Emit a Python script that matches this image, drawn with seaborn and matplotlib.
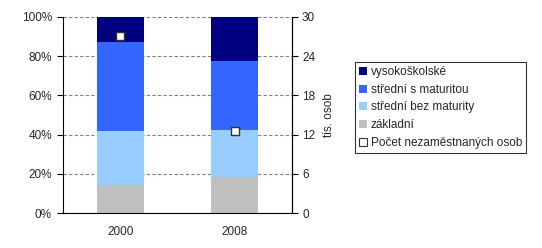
import matplotlib
matplotlib.use("Agg")
import matplotlib.pyplot as plt
import seaborn as sns
import pandas as pd
import numpy as np
from matplotlib.patches import Patch
from matplotlib.lines import Line2D

years = ["2000", "2008"]
series = ["základní", "střední bez maturity", "střední s maturitou", "vysokoškolské"]
zakladni = [14.4, 18.5]
stredni_bez = [27.5, 23.9]
stredni_s = [45.2, 35.1]
vysokoskolske = [12.9, 22.5]
pocet = [27.0, 12.6]
colors = {"základní": "#C0C0C0", "střední bez maturity": "#99CCFF",
          "střední s maturitou": "#3366FF", "vysokoškolské": "#000080"}

sns.set_style("white")
plt.rcParams["font.family"] = ["Liberation Sans", "DejaVu Sans"]
plt.rcParams["font.size"] = 8.5

fig = plt.figure(figsize=(5.42, 2.48), dpi=100)
ax = fig.add_axes([63/542, 1-213.3/248, (292.3-63)/542, (213.3-16.7)/248])

vals = [zakladni, stredni_bez, stredni_s, vysokoskolske]
cum = np.cumsum(np.array(vals), axis=0)
for i in range(len(series) - 1, -1, -1):
    df = pd.DataFrame({"year": years, "value": cum[i]})
    sns.barplot(data=df, x="year", y="value", color=colors[series[i]],
                width=0.41, ax=ax, saturation=1, linewidth=0, zorder=2)

ax.set_xlim(-0.5, 1.5)
ax.set_ylim(0, 100)
ax.set_yticks([0, 20, 40, 60, 80, 100])
ax.set_yticklabels([f"{v}%" for v in [0, 20, 40, 60, 80, 100]])
ax.set_xlabel("")
ax.set_ylabel("")
ax.yaxis.grid(True, linestyle=(0, (3, 2)), color="#808080", linewidth=0.8, zorder=0)
ax.set_axisbelow(True)
ax.spines["top"].set_visible(False)
for s in ["left", "bottom", "right"]:
    ax.spines[s].set_color("black")
    ax.spines[s].set_linewidth(0.8)
ax.set_xticks([0, 1])
ax.set_xticklabels(years)
ax.tick_params(axis="x", length=0, pad=9)
ax.set_xticks([-0.5, 0.5, 1.5], minor=True)
ax.tick_params(axis="x", which="minor", length=4, width=0.8, direction="out", color="black")
ax.tick_params(axis="y", length=4, width=0.8, direction="out", left=True, color="black", pad=4)

ax2 = ax.twinx()
sns.scatterplot(x=[0, 1], y=pocet, ax=ax2, marker="s", s=30, color="white",
                edgecolor="#333333", linewidth=1, zorder=5)
ax2.set_ylim(0, 30)
ax2.set_yticks([0, 6, 12, 18, 24, 30])
ax2.set_ylabel("tis. osob", labelpad=6)
ax2.tick_params(axis="y", length=4, width=0.8, direction="out", right=True, color="black", pad=3)
for s in ["top", "left", "bottom"]:
    ax2.spines[s].set_visible(False)
ax2.spines["right"].set_color("black")
ax2.spines["right"].set_linewidth(0.8)

handles = [Patch(facecolor=colors[s], edgecolor="none") for s in reversed(series)]
labels = list(reversed(series))
handles.append(Line2D([], [], marker="s", linestyle="none", markerfacecolor="white",
                      markeredgecolor="#333333", markersize=6, markeredgewidth=0.8))
labels.append("Počet nezaměstnaných osob")
leg = fig.legend(handles, labels, loc="upper left", bbox_to_anchor=(355/542, 1-62/248),
                 frameon=True, fancybox=False, edgecolor="black", handlelength=0.7,
                 handleheight=0.7, handletextpad=0.3, borderpad=0.35, labelspacing=0.48,
                 borderaxespad=0, fontsize=8.5)
leg.get_frame().set_linewidth(0.8)

fig.savefig("out.png", dpi=100)
